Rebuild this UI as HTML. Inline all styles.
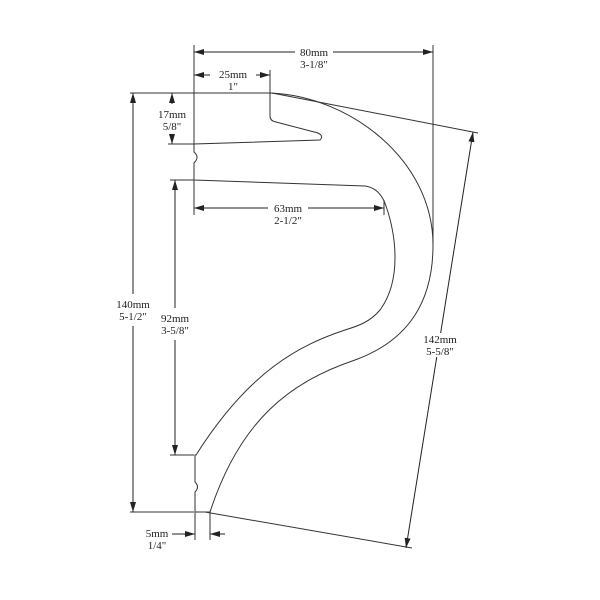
<!DOCTYPE html>
<html><head><style>body{margin:0;background:#fff}svg{display:block}text{font-family:"Liberation Serif",serif;font-size:11px;fill:#222;text-anchor:middle}</style></head><body>
<svg width="600" height="600" viewBox="0 0 600 600">
<defs><marker id="a" viewBox="0 0 10 6" refX="10" refY="3" markerWidth="10" markerHeight="6" orient="auto-start-reverse" markerUnits="userSpaceOnUse"><path d="M0,0 L10,3 L0,6z" fill="#222"/></marker></defs>
<g fill="none" stroke="#333" stroke-width="1">
<path d="M270,93 L270,116 Q270,121 276,122 L318,133 Q324,136 320,140 L194,144 L194,152 Q200,157 194,163 L194,180 L365,186 Q380,188 386,206 C396,235 402,280 380,310 C370,322 358,326 345,330 C300,345 250,370 196,455 L195,455 L195,482 Q200,487 195,492 L195,512 L210,512"/>
<path d="M270,93 C350,96 433,160 433,245 C433,300 410,340 355,360 C290,382 240,420 210,512"/>
<path d="M194,45 V144 M194,180 V215 M433,45 V245 M270,70 V93 M130,93 H270 M168,144 H194 M170,180 H194 M170,455 H194 M130,512 H194 M384,200 V215 M272,93 L478,133 M205,512 L412,548 M195,512 V540 M210,512 V540"/>
</g>
<g stroke="#222" stroke-width="1" fill="none">
<path d="M194,52 H295 M333,52 H433" marker-start="url(#a)" marker-end="url(#a)"/>
<path d="M194,75 H210 M256,75 H270" marker-start="url(#a)" marker-end="url(#a)"/>
<path d="M172,93 V104 M172,134 V144" marker-start="url(#a)" marker-end="url(#a)"/>
<path d="M133,93 V294 M133,326 V512" marker-start="url(#a)" marker-end="url(#a)"/>
<path d="M175,180 V308 M175,340 V455" marker-start="url(#a)" marker-end="url(#a)"/>
<path d="M194,208 H268 M308,208 H384" marker-start="url(#a)" marker-end="url(#a)"/>
<path d="M473,132 L406,548" marker-start="url(#a)" marker-end="url(#a)"/>
<path d="M172,534 H195" marker-end="url(#a)"/>
<path d="M225,534 H210" marker-end="url(#a)"/>
</g>
<rect x="422" y="333" width="38" height="24" fill="#fff"/>
<text x="314" y="56">80mm</text><text x="314" y="68">3-1/8"</text>
<text x="233" y="78">25mm</text><text x="233" y="90">1"</text>
<text x="172" y="118">17mm</text><text x="172" y="130">5/8"</text>
<text x="133" y="308">140mm</text><text x="133" y="320">5-1/2"</text>
<text x="175" y="322">92mm</text><text x="175" y="334">3-5/8"</text>
<text x="288" y="212">63mm</text><text x="288" y="224">2-1/2"</text>
<text x="440" y="343">142mm</text><text x="440" y="355">5-5/8"</text>
<text x="157" y="537">5mm</text><text x="157" y="549">1/4"</text>
</svg>
</body></html>
